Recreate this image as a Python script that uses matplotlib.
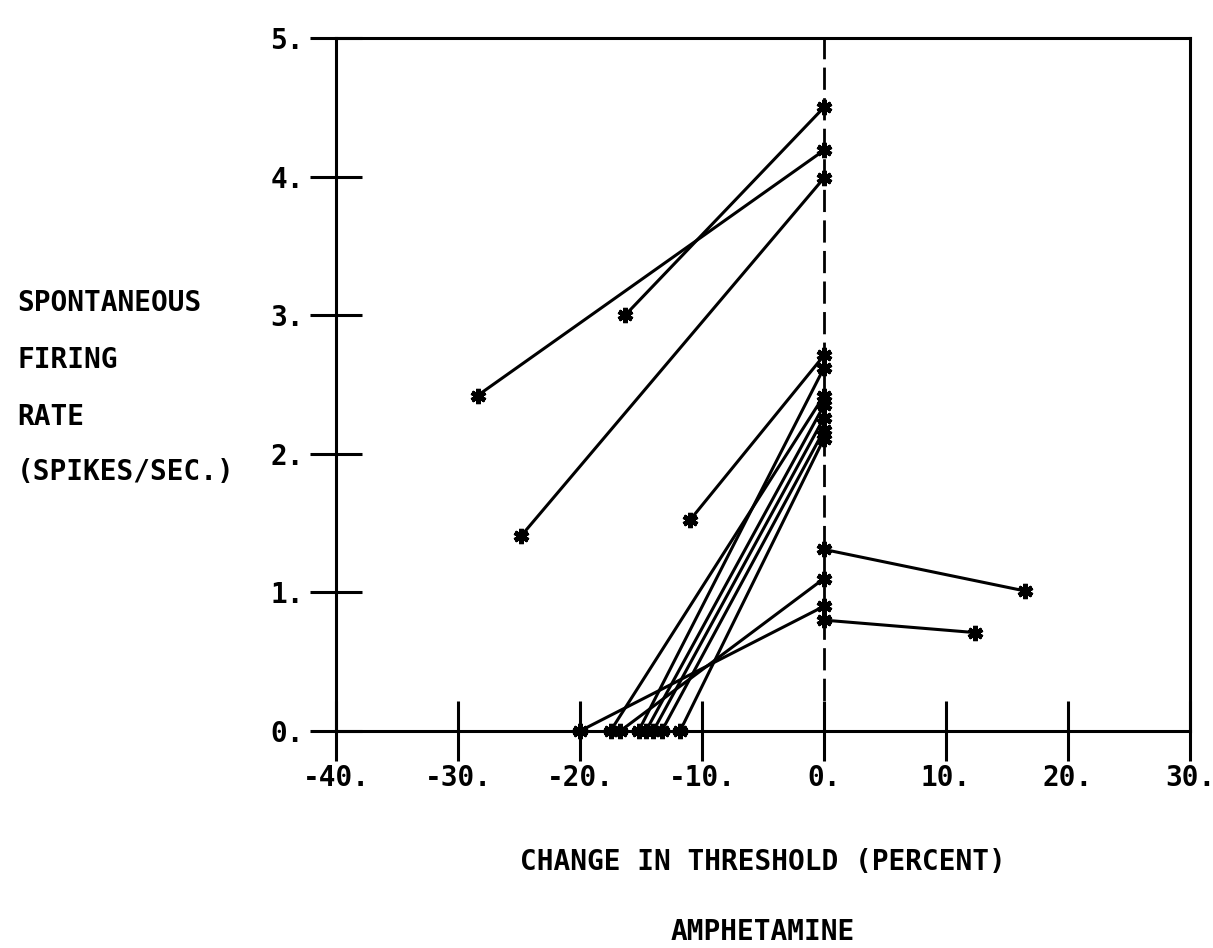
import matplotlib
matplotlib.use("Agg")
import matplotlib.pyplot as plt

# Data: each cell is a line from (x_before, y_before) to (x_after, y_after)
x_before = [-28.4, -16.3, -24.8, -11.0, 16.5, 12.4,
            -20.0, -16.7, -17.5, -15.2, -14.6, -14.0, -13.3, -11.8]
y_before = [2.42, 3.0, 1.41, 1.52, 1.01, 0.71,
            0.0, 0.0, 0.0, 0.0, 0.0, 0.0, 0.0, 0.0]
x_after = [0, 0, 0, 0, 0, 0, 0, 0, 0, 0, 0, 0, 0, 0]
y_after = [4.19, 4.50, 3.99, 2.71, 1.31, 0.80,
           0.90, 1.10, 2.42, 2.62, 2.35, 2.26, 2.17, 2.11]

x_ticks = [-40, -30, -20, -10, 0, 10, 20, 30]
x_tick_labels = ["-40.", "-30.", "-20.", "-10.", "0.", "10.", "20.", "30."]
y_ticks = [0, 1, 2, 3, 4, 5]
y_tick_labels = ["0.", "1.", "2.", "3.", "4.", "5."]

y_label_lines = ["SPONTANEOUS", "FIRING", "RATE", "(SPIKES/SEC.)"]
x_label = "CHANGE IN THRESHOLD (PERCENT)"
subtitle = "AMPHETAMINE"

FONT = "DejaVu Sans Mono"
FS = 20
W, H = 1213, 948
fig = plt.figure(figsize=(W / 100, H / 100), dpi=100)
L, R, T, B = 336, 1190, 38, 731
ax = fig.add_axes([L / W, 1 - B / H, (R - L) / W, (B - T) / H])
ax.set_xlim(-40, 30)
ax.set_ylim(0, 5)

lw = 2.2
for sp in ax.spines.values():
    sp.set_linewidth(lw)

# dashed reference line at 0
ax.plot([0, 0], [0, 5], color="black", lw=2.0, linestyle=(0, (8, 3)), zorder=2)

for xb, yb, xa, ya in zip(x_before, y_before, x_after, y_after):
    ax.plot([xb, xa], [yb, ya], color="black", lw=lw, marker=(6, 2, 0),
            markersize=11, markeredgewidth=3.4, clip_on=False, zorder=3)

ax.set_xticks(x_ticks)
ax.set_xticklabels(x_tick_labels, fontfamily=FONT, fontweight="bold", fontsize=FS)
ax.set_yticks(y_ticks)
ax.set_yticklabels(y_tick_labels, fontfamily=FONT, fontweight="bold", fontsize=FS)
ax.tick_params(axis="x", direction="inout", length=43, width=lw, pad=2)
ax.tick_params(axis="y", direction="inout", length=38, width=lw, pad=4)

ys = [303, 360, 417, 472]
for txt, yp in zip(y_label_lines, ys):
    fig.text(17 / W, 1 - yp / H, txt, ha="left", va="center",
             fontfamily=FONT, fontweight="bold", fontsize=FS)

cx = (L + R) / 2 / W
fig.text(cx, 1 - 862 / H, x_label, ha="center", va="center",
         fontfamily=FONT, fontweight="bold", fontsize=FS)
fig.text(cx, 1 - 932 / H, subtitle, ha="center", va="center",
         fontfamily=FONT, fontweight="bold", fontsize=FS)

fig.savefig("out.png", dpi=100)
